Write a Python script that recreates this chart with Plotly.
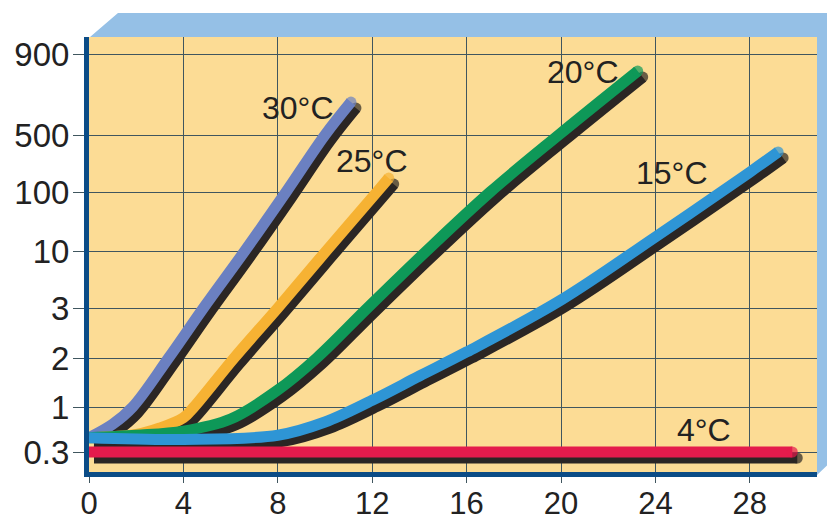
import numpy as np
import plotly.graph_objects as go

# ---------------- data ----------------
days_30 = [0, 1.0, 1.85, 3.37, 4.85, 6.6, 8.35, 10.0, 11.1]
vals_30 = [0.44, 0.63, 1, 2, 3, 10, 100, 500, 635]

days_25 = [0, 2, 3, 4, 4.45, 6.15, 8.0, 10.05, 12.2, 12.7]
vals_25 = [0.44, 0.48, 0.57, 0.75, 1, 2, 3, 10, 100, 148]

days_20 = [0, 2, 4, 6, 8, 9.65, 11.8, 14.3, 17.0, 19.9, 23.25]
vals_20 = [0.44, 0.47, 0.525, 0.725, 1.27, 2, 3, 10, 100, 500, 795]

days_15 = [0, 4, 8, 10, 12, 14, 16, 20, 24, 28, 29.2]
vals_15 = [0.44, 0.42, 0.47, 0.67, 1.1, 1.55, 2.1, 3.55, 17.3, 175, 310]

days_4 = [0, 29.8]
vals_4 = [0.3, 0.3]

series_names = ["30°C", "25°C", "20°C", "15°C", "4°C"]
series_days = [days_30, days_25, days_20, days_15, days_4]
series_vals = [vals_30, vals_25, vals_20, vals_15, vals_4]

y_tick_values = [0.3, 1, 2, 3, 10, 100, 500, 900]
y_tick_labels = ["0.3", "1", "2", "3", "10", "100", "500", "900"]
x_tick_values = [0, 4, 8, 12, 16, 20, 24, 28]
x_tick_labels = ["0", "4", "8", "12", "16", "20", "24", "28"]

# ---------------- styling / layout constants ----------------
colors = ["#6B80C1", "#F6B233", "#0E9858", "#2E95D5", "#E41B4C"]
SHADOW = "#2B2624"
BG = "#FCDC95"
FRAME = "#95C0E6"
AXIS_BLUE = "#0B4C86"
GRID = "#40565F"
FONT = "Liberation Sans, Arial, sans-serif"
TXT = "#222222"

OFF = 8                      # default page margin of the html body
PAGE_W, PAGE_H = 835, 521
W, H = PAGE_W - OFF, PAGE_H - OFF
PLOT_LEFT, PLOT_RIGHT, PLOT_TOP, PLOT_BOTTOM = 89, 817, 37, 472   # page pixels
L = PLOT_LEFT - OFF
T = PLOT_TOP - OFF
R = W - (PLOT_RIGHT - OFF)
B = H - (PLOT_BOTTOM - OFF)
PW, PH = W - L - R, H - T - B
PX_PER_DAY = 23.6
X_MAX = PW / PX_PER_DAY

# the chart's irregular value scale: position (px above the x axis) of each tick
Y_TICK_POS = [20, 65, 114, 164, 221, 280, 337, 418]


def scale_y(v):
    return np.interp(np.log(np.asarray(v, float)), np.log(y_tick_values), Y_TICK_POS)


SH_DX = 5 / PX_PER_DAY   # shadow offset, days
SH_DY = 6                # shadow offset, px

fig = go.Figure()
for name, d, v, c in zip(series_names, series_days, series_vals, colors):
    x = np.asarray(d, float)
    y = scale_y(v)
    sizes = [0] * (len(x) - 1) + [11]
    fig.add_trace(go.Scatter(
        x=x + SH_DX, y=y - SH_DY, mode="lines+markers",
        line=dict(color=SHADOW, width=11, shape="spline", smoothing=1.0),
        marker=dict(color=SHADOW, size=sizes, line=dict(width=0)),
        hoverinfo="skip", showlegend=False))
    fig.add_trace(go.Scatter(
        x=x, y=y, mode="lines+markers", name=name,
        line=dict(color=c, width=11, shape="spline", smoothing=1.0),
        marker=dict(color=c, size=sizes, line=dict(width=0)),
        hoverinfo="skip", showlegend=False))

# curve labels (page-pixel centres converted to data units)
label_px = [(298, 108), (372, 161), (583, 72), (672, 173), (704, 430)]
for name, (px, py) in zip(series_names, label_px):
    fig.add_annotation(x=(px - PLOT_LEFT) / PX_PER_DAY, y=PLOT_BOTTOM - py, text=name,
                       showarrow=False, xanchor="center", yanchor="middle",
                       font=dict(family=FONT, size=32, color=TXT))


# 3-D frame around the panel (page pixels -> paper coordinates)
def px2paper(px, py):
    return (px - PLOT_LEFT) / PW, (PLOT_BOTTOM - py) / PH


frame_pts = [(90, 37), (118, 13), (835, 13), (835, 458), (817, 475), (817, 37)]
path = "M " + " L ".join(f"{px2paper(a, b)[0]:.4f},{px2paper(a, b)[1]:.4f}" for a, b in frame_pts) + " Z"
fig.add_shape(type="path", path=path, xref="paper", yref="paper",
              fillcolor=FRAME, line=dict(width=0), layer="below")

fig.update_layout(
    width=W, height=H,
    margin=dict(l=L, r=R, t=T, b=B, pad=0, autoexpand=False),
    paper_bgcolor="white", plot_bgcolor=BG,
    showlegend=False, hovermode=False,
    font=dict(family=FONT, color=TXT),
)
fig.update_xaxes(
    range=[0, X_MAX], tickmode="array", tickvals=x_tick_values, ticktext=x_tick_labels,
    showgrid=True, gridcolor=GRID, gridwidth=1.3, zeroline=False,
    showline=True, linecolor=AXIS_BLUE, linewidth=5, automargin=False,
    ticks="outside", ticklen=6, tickcolor=GRID, tickwidth=1.3, ticklabelstandoff=-6,
    tickfont=dict(family=FONT, size=31, color=TXT), fixedrange=True,
)
fig.update_yaxes(
    range=[0, PH], tickmode="array", tickvals=Y_TICK_POS, ticktext=y_tick_labels,
    showgrid=True, gridcolor=GRID, gridwidth=1.3, zeroline=False,
    showline=True, linecolor=AXIS_BLUE, linewidth=5, automargin=False,
    ticks="outside", ticklen=11, tickcolor=GRID, tickwidth=1.3, ticklabelstandoff=-3,
    tickfont=dict(family=FONT, size=33, color=TXT), fixedrange=True,
)

fig.write_html("out.html", config={"displayModeBar": False})
